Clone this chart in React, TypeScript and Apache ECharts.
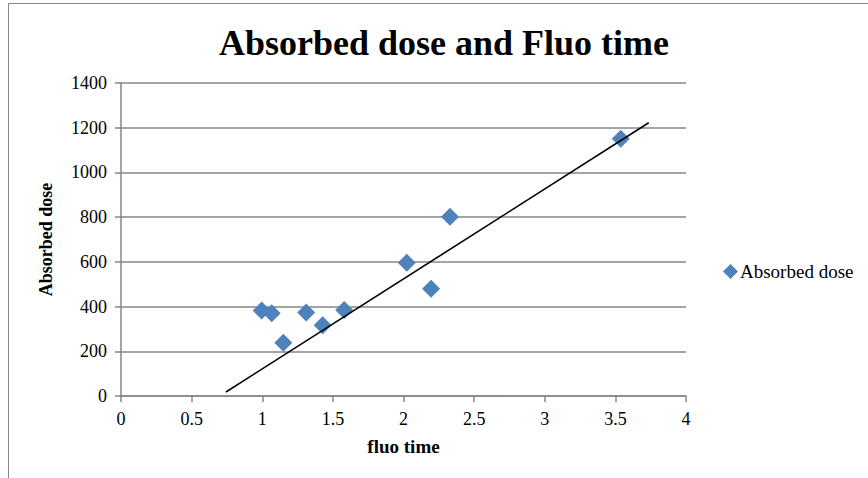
import React, { useEffect, useRef } from "react";
import * as echarts from "echarts";

const fluoTime = [0.996, 1.067, 1.149, 1.311, 1.428, 1.58, 2.023, 2.195, 2.329, 3.538];
const absorbedDose = [382, 370, 238, 374, 316, 385, 596, 480, 802, 1151];
const trendX = [0.743, 3.736];
const trendY = [18, 1222];

const FONT = "Liberation Serif";

export default function App() {
  const ref = useRef<HTMLDivElement>(null);
  useEffect(() => {
    if (!ref.current) return;
    const chart = echarts.init(ref.current, undefined, { renderer: "svg" });
    chart.setOption({
      animation: false,
      backgroundColor: "#fff",
      title: {
        text: "Absorbed dose and Fluo time",
        left: 439,
        textAlign: "center",
        top: 20,
        textStyle: { fontFamily: FONT, fontWeight: "bold", fontSize: 36, color: "#000" },
      },
      graphic: [
        {
          type: "rect",
          shape: { x: 8.5, y: 3.5, width: 900, height: 520 },
          style: { fill: "none", stroke: "#868686", lineWidth: 1 },
          silent: true,
        },
      ],
      grid: { left: 121, right: 182, top: 83, bottom: 82, containLabel: false },
      legend: {
        left: 718,
        top: 257,
        icon: "diamond",
        itemWidth: 15,
        itemHeight: 15,
        itemGap: 4,
        data: ["Absorbed dose"],
        textStyle: { fontFamily: FONT, fontSize: 19, color: "#000", padding: [0, 0, 0, -3] },
      },
      xAxis: {
        type: "value",
        min: 0,
        max: 4,
        interval: 0.5,
        name: "fluo time",
        nameLocation: "middle",
        nameGap: 41,
        nameTextStyle: { fontFamily: FONT, fontWeight: "bold", fontSize: 19, color: "#000" },
        axisLine: { show: true, lineStyle: { color: "#868686", width: 1.5 } },
        axisTick: { show: true, length: 6, lineStyle: { color: "#868686", width: 1.5 } },
        axisLabel: {
          fontFamily: FONT,
          fontSize: 18,
          color: "#000",
          margin: 14,
          formatter: (v: number) => String(v),
        },
        splitLine: { show: false },
      },
      yAxis: {
        type: "value",
        min: 0,
        max: 1400,
        interval: 200,
        name: "Absorbed dose",
        nameLocation: "middle",
        nameGap: 66,
        nameTextStyle: { fontFamily: FONT, fontWeight: "bold", fontSize: 18, color: "#000" },
        axisLine: { show: true, lineStyle: { color: "#868686", width: 1.5 } },
        axisTick: { show: true, length: 6, lineStyle: { color: "#868686", width: 1.5 } },
        axisLabel: {
          fontFamily: FONT,
          fontSize: 18,
          color: "#000",
          margin: 14,
          formatter: (v: number) => String(v),
        },
        splitLine: { show: true, lineStyle: { color: "#868686", width: 1.5 } },
      },
      series: [
        {
          name: "Absorbed dose",
          type: "scatter",
          symbol: "diamond",
          symbolSize: 18,
          itemStyle: { color: "#4F81BD", opacity: 1 },
          data: fluoTime.map((x, i) => [x, absorbedDose[i]]),
          z: 3,
        },
        {
          name: "Trend",
          type: "line",
          showSymbol: false,
          symbol: "none",
          lineStyle: { color: "#000", width: 1.6 },
          data: trendX.map((x, i) => [x, trendY[i]]),
          z: 4,
        },
      ],
    });
    return () => chart.dispose();
  }, []);
  return (
    <div
      ref={ref}
      style={{ position: "absolute", left: 0, top: 0, width: 868, height: 478 }}
    />
  );
}
